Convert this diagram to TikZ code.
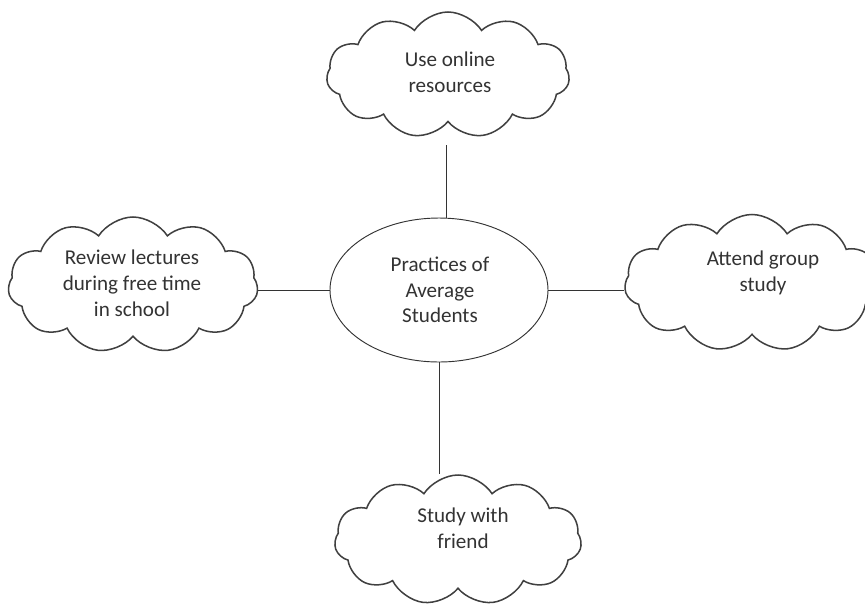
\documentclass[tikz,border=0pt]{standalone}
\usepackage{fontspec}
\setmainfont{Carlito}
\usetikzlibrary{shapes.symbols,shapes.geometric}

\tikzset{
  idea/.style={cloud, cloud puffs=11, cloud puff arc=115, cloud ignores aspect,
    draw=black!75, line width=1.3pt, inner sep=0pt},
  note/.style={align=center, inner sep=0pt,
    font=\fontsize{18}{22}\selectfont, text=black!80},
  hub/.style={ellipse, draw=black!80, line width=0.8pt, inner sep=0pt,
    minimum width=218*0.03cm, minimum height=144*0.03cm},
  link/.style={draw=black!80, line width=0.7pt}
}

\begin{document}
\begin{tikzpicture}[x=0.03cm,y=-0.03cm]
	\useasboundingbox (0,0) rectangle (865,603);

            \node[hub] (hub) at (439,290) {};
            \node[note] (hub text) at (440,290) {Practices of\\Average\\Students};

            % the four clouds round the hub
            \node[idea, minimum width=243*0.03cm, minimum height=126*0.03cm] (online) at (448,75) {};
            \node[idea, minimum width=250*0.03cm, minimum height=136*0.03cm] (review) at (133,285) {};
            \node[idea, minimum width=255*0.03cm, minimum height=137*0.03cm] (group) at (752,283) {};
            \node[idea, minimum width=247*0.03cm, minimum height=130*0.03cm] (friend) at (458,540) {};

            \node[note] (online text) at (450,72) {Use online\\resources};
            \node[note] (review text) at (132,283) {Review lectures\\during free time\\in school};
            \node[note] (group text) at (763,273) {Attend group\\study};
            \node[note] (friend text) at (463,528) {Study with\\friend};

            \draw[link, shorten >=22*0.03cm] (hub.84) -- (hub.84 |- online.south);
            \draw[link] (hub.west) -- (hub.west -| review.east);
            \draw[link] (hub.east) -- (hub.east -| group.west);
            \draw[link] (hub.south) -- (hub.south |- friend.north);

\end{tikzpicture}
\end{document}
